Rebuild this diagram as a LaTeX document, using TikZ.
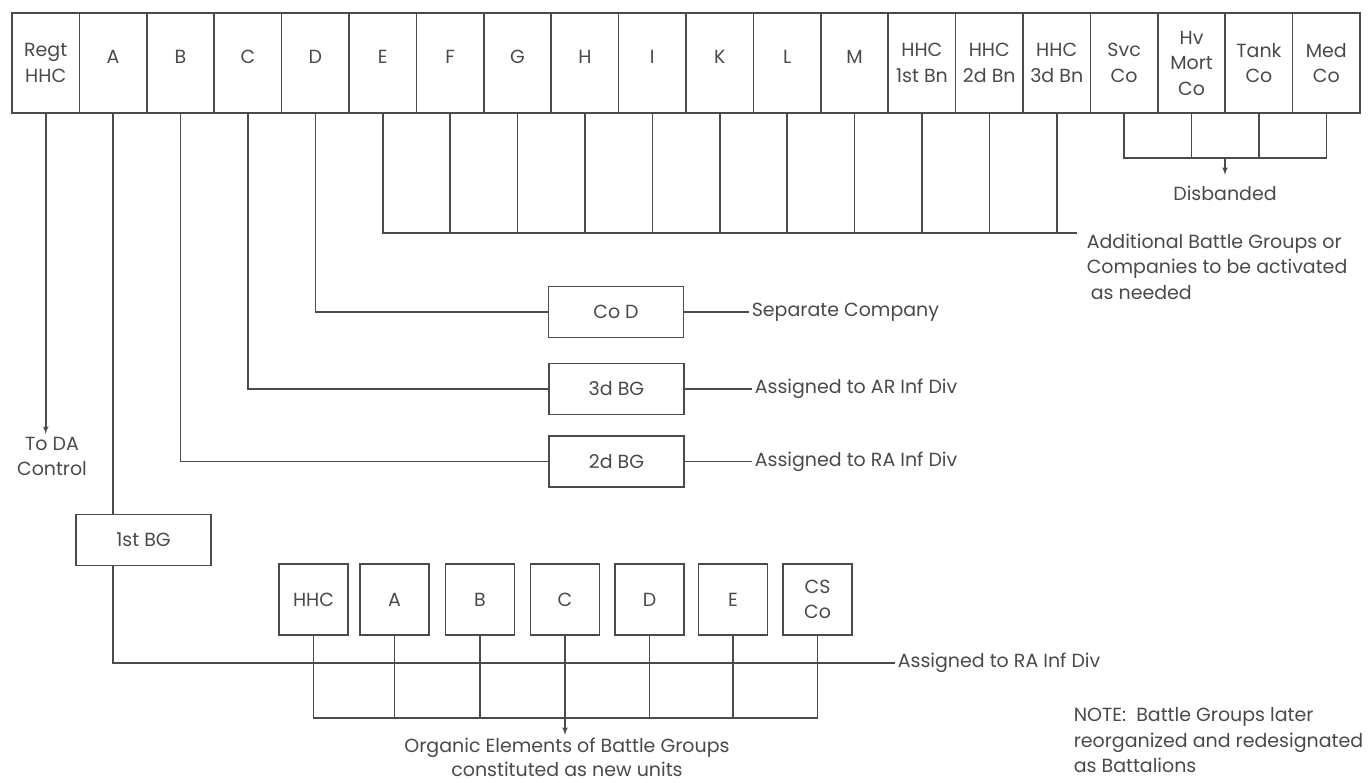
\documentclass[tikz,border=0pt]{standalone}
\usepackage{fontspec}
\setmainfont{Poppins}
\usepackage{xcolor}
\usepackage{tikz}
\usetikzlibrary{arrows,calc,positioning}

\definecolor{ink}{HTML}{4A4A4A}

\begin{document}
\begin{tikzpicture}[x=1pt,y=-1pt,line width=1.6pt,color=ink,font=\fontsize{19}{25.5}\selectfont]
\tikzset{unit/.style = {shape=rectangle,draw,minimum width=67.4pt,minimum height=100pt,inner sep=0pt,align=center}}
\tikzset{letter/.style = {unit,text depth=12pt}}
\tikzset{midbox/.style = {shape=rectangle,draw,minimum width=135pt,minimum height=51pt,inner sep=0pt}}
\tikzset{elem/.style = {shape=rectangle,draw,minimum width=69pt,minimum height=71pt,inner sep=0pt,align=center}}
\tikzset{lbl/.style = {anchor=west,inner sep=2pt,align=left}}
\tikzset{edge/.style = {->,> = latex'}}
\path[fill=white] (0,0) rectangle (1368,782);
% regiment row
\node[unit]   (regt) at (45.7,63)   {Regt\\HHC};
\node[letter] (a)    at (113.1,63)  {A};
\node[letter] (b)    at (180.5,63)  {B};
\node[letter] (c)    at (247.9,63)  {C};
\node[letter] (d)    at (315.3,63)  {D};
\node[letter] (e)    at (382.7,63)  {E};
\node[letter] (f)    at (450.1,63)  {F};
\node[letter] (g)    at (517.5,63)  {G};
\node[letter] (h)    at (584.9,63)  {H};
\node[letter] (i)    at (652.3,63)  {I};
\node[letter] (k)    at (719.7,63)  {K};
\node[letter] (l)    at (787.1,63)  {L};
\node[letter] (m)    at (854.5,63)  {M};
\node[unit]   (hq1)  at (921.9,63)  {HHC\\1st Bn};
\node[unit]   (hq2)  at (989.3,63)  {HHC\\2d Bn};
\node[unit]   (hq3)  at (1056.7,63) {HHC\\3d Bn};
\node[unit]   (svc)  at (1124.1,63) {Svc\\Co};
\node[unit]   (mort) at (1191.5,63) {Hv\\Mort\\Co};
\node[unit]   (tank) at (1258.9,63) {Tank\\Co};
\node[unit]   (med)  at (1326.3,63) {Med\\Co};
% new units
\node[midbox] (cod) at (616,312)     {Co D};
\node[midbox] (bg3) at (616.5,389)   {3d BG};
\node[midbox] (bg2) at (616.5,461.5) {2d BG};
\node[midbox] (bg1) at (143.5,540)   {1st BG};
\node[elem] (ehhc) at (313.5,599.5) {HHC};
\node[elem] (ea)   at (394.5,599.5) {A};
\node[elem] (eb)   at (480,599.5)   {B};
\node[elem] (ec)   at (565,599.5)   {C};
\node[elem] (ed)   at (649.5,599.5) {D};
\node[elem] (ee)   at (733,599.5)   {E};
\node[elem] (ecs)  at (817.5,599.5) {CS\\Co};
% labels
\node[lbl] (sep) at (749,312)   {Separate Company};
\node[lbl] (ar)  at (752,389)   {Assigned to AR Inf Div};
\node[lbl] (ra)  at (752,461.5) {Assigned to RA Inf Div};
\node[lbl] (ra1) at (895,663)   {Assigned to RA Inf Div};
\node[lbl,anchor=north west] (more) at (1084,231) {Additional Battle Groups or\\Companies to be activated\\\hspace{4pt}as needed};
\node[lbl,anchor=north west] (note) at (1071,705) {NOTE:\ \ Battle Groups later\\reorganized and redesignated\\as Battalions};
\node[lbl,anchor=north,align=center] (toda) at (52,434) {To DA\\Control};
\node[lbl,anchor=center] (disb) at (1225,193) {Disbanded};
\node[lbl,anchor=north,align=center,font=\fontsize{19}{24.5}\selectfont] (org) at (567,735) {Organic Elements of Battle Groups\\constituted as new units};
\coordinate (addl) at (1077,233);
\coordinate (dbar) at (1225,158);
\coordinate (obar) at (313.5,718);
% connectors
\draw[edge] (regt.south) -- (regt.south |- toda.north);
\draw (a.south) -- (a.south |- bg1.north);
\draw (a.south |- bg1.south) |- (ra1.west);
\draw (b.south) |- (bg2.west);
\draw (bg2.east) -- (ra.west);
\draw (c.south) |- (bg3.west);
\draw (bg3.east) -- (ar.west);
\draw (d.south) |- (cod.west);
\draw (cod.east) -- (sep.west);
\draw (e.south) |- (addl);
\draw (f.south) -- (f.south |- addl) (g.south) -- (g.south |- addl)
      (h.south) -- (h.south |- addl) (i.south) -- (i.south |- addl)
      (k.south) -- (k.south |- addl) (l.south) -- (l.south |- addl)
      (m.south) -- (m.south |- addl) (hq1.south) -- (hq1.south |- addl)
      (hq2.south) -- (hq2.south |- addl) (hq3.south) -- (hq3.south |- addl);
\draw (svc.south) |- (dbar) -| (med.south);
\draw (mort.south) -- (mort.south |- dbar) (tank.south) -- (tank.south |- dbar);
\draw[edge] (dbar) -- ([yshift=8pt]disb.north);
\draw (ehhc.south) |- (ecs.south |- obar) -- (ecs.south);
\draw (ea.south) -- (ea.south |- obar) (eb.south) -- (eb.south |- obar)
      (ed.south) -- (ed.south |- obar) (ee.south) -- (ee.south |- obar);
\draw[edge] (ec.south) -- (ec.south |- org.north);
\end{tikzpicture}
\end{document}
